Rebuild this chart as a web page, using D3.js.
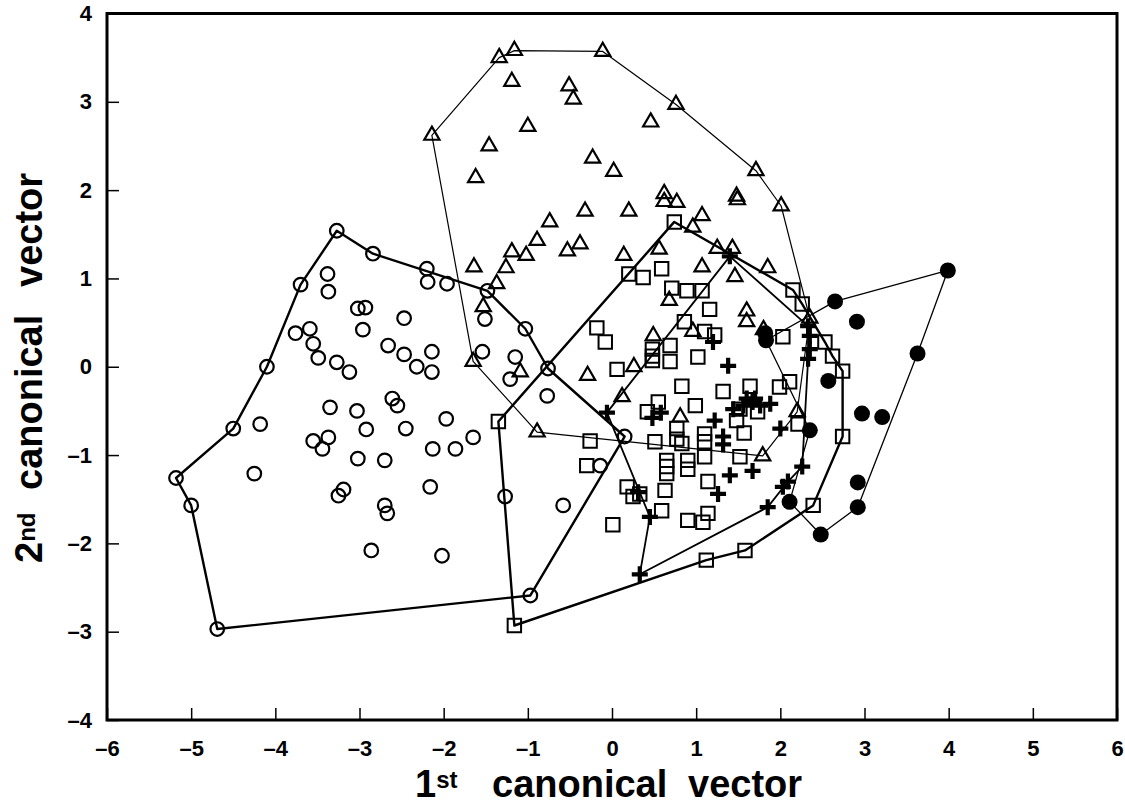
<!DOCTYPE html>
<html>
<head>
<meta charset="utf-8">
<script src="https://cdn.jsdelivr.net/npm/d3@7"></script>
<style>
  body { margin: 0; background: #fff; }
  svg { display: block; }
  text { font-family: "Liberation Sans", Arial, Helvetica, sans-serif; font-weight: bold; fill: #000; }
</style>
</head>
<body>
<div id="chart"></div>
<script>
// canonical discriminant scores
const xTicks = [-6, -5, -4, -3, -2, -1, 0, 1, 2, 3, 4, 5, 6];
const yTicks = [-4, -3, -2, -1, 0, 1, 2, 3, 4];

// open circles: outline (in drawing order), then the rest
const circleHull = [[-3.27,1.54],[-2.84,1.28],[-1.48,0.86],[-1.03,0.43],[-0.76,-0.02],[0.15,-0.79],
  [-0.97,-2.59],[-4.69,-2.97],[-5.0,-1.57],[-5.18,-1.26],[-4.5,-0.7],[-4.1,0.0],[-3.7,0.93]];
const circleInner = [[-3.38,1.05],[-3.37,0.85],[-3.02,0.66],[-2.93,0.67],[-2.96,0.42],[-3.76,0.38],
  [-3.59,0.43],[-3.55,0.26],[-3.49,0.10],[-3.27,0.05],[-3.12,-0.06],[-2.66,0.24],[-2.47,0.14],
  [-3.35,-0.46],[-3.03,-0.50],[-2.92,-0.71],[-2.61,-0.36],[-2.55,-0.44],[-4.18,-0.65],[-3.55,-0.84],
  [-3.37,-0.80],[-3.44,-0.93],[-3.02,-1.04],[-2.70,-1.06],[-4.25,-1.21],[-3.25,-1.46],[-3.19,-1.39],
  [-2.70,-1.57],[-2.67,-1.66],[-2.86,-2.08],[-2.47,0.55],[-2.20,1.11],[-2.19,0.96],[-1.96,0.94],
  [-2.14,0.17],[-2.14,-0.06],[-2.32,0.0],[-2.45,-0.70],[-1.97,-0.59],[-2.13,-0.93],[-1.86,-0.93],
  [-1.65,-0.80],[-2.16,-1.36],[-2.02,-2.14],[-1.54,0.17],[-1.51,0.54],[-1.15,0.11],[-1.21,-0.14],
  [-0.77,-0.33],[-0.14,-1.12],[-1.27,-1.47],[-0.58,-1.57]];

// open triangles
const triHull = [[-2.14,2.62],[-1.34,3.50],[-1.16,3.58],[-0.11,3.57],[0.76,2.97],[1.71,2.22],[2.01,1.82],
  [2.35,0.55],[2.20,-0.51],[1.79,-1.01],[-0.89,-0.74],[-1.65,0.06]];
const triInner = [[-1.19,3.23],[-0.51,3.18],[-0.46,3.03],[-1.0,2.72],[0.46,2.77],[-1.46,2.50],[-1.62,2.14],
  [-0.23,2.36],[0.02,2.21],[0.62,1.96],[0.62,1.87],[0.77,1.86],[1.48,1.93],[1.49,1.89],[-0.32,1.76],
  [0.20,1.76],[-0.74,1.64],[1.07,1.71],[-0.89,1.43],[-0.38,1.39],[-0.53,1.31],[-1.19,1.30],[-1.02,1.26],
  [-1.26,1.12],[-1.64,1.13],[0.14,1.26],[0.56,1.33],[0.96,1.58],[1.25,1.34],[1.43,1.34],[1.07,1.13],
  [1.46,1.02],[1.85,1.12],[-1.37,0.94],[-1.53,0.68],[-1.09,-0.06],[-0.29,-0.10],[0.26,0.0],[0.12,-0.34],
  [0.68,0.75],[0.49,0.35],[0.96,0.40],[0.81,-0.57],[1.60,0.63],[1.60,0.51],[1.80,0.42]];

// open squares
const squareHull = [[0.74,1.64],[2.15,0.87],[2.26,0.71],[2.53,0.28],[2.62,0.12],[2.74,-0.05],[2.74,-0.79],
  [2.39,-1.57],[1.58,-2.08],[1.12,-2.19],[-1.16,-2.93],[-1.35,-0.62]];
const squareInner = [[0.20,1.05],[0.37,1.01],[0.59,1.11],[0.71,0.89],[0.89,0.86],[1.07,0.86],[1.16,0.65],
  [0.86,0.51],[1.10,0.40],[1.22,0.36],[-0.18,0.44],[-0.08,0.28],[0.69,0.24],[0.48,0.20],[0.48,0.12],
  [0.48,0.07],[0.69,0.06],[1.02,0.11],[0.06,-0.03],[0.83,-0.22],[1.32,-0.28],[0.55,-0.40],[0.42,-0.51],
  [0.99,-0.44],[1.48,-0.61],[1.57,-0.75],[-0.26,-0.84],[0.51,-0.85],[0.77,-0.70],[0.77,-0.82],[0.83,-0.87],
  [1.10,-0.76],[1.10,-0.85],[1.10,-1.02],[0.65,-1.06],[0.65,-1.13],[0.65,-1.21],[0.90,-1.06],[0.90,-1.16],
  [1.52,-1.02],[0.18,-1.36],[0.25,-1.47],[0.33,-1.44],[0.63,-1.40],[0.59,-1.63],[1.14,-1.30],[0.90,-1.74],
  [1.08,-1.76],[1.14,-1.66],[0.01,-1.79],[2.03,0.34],[2.11,-0.17],[1.99,-0.23],[1.64,-0.22],[2.21,-0.65],
  [1.52,-0.48],[1.73,-0.51],[-0.30,-1.12]];

// crosses
const crossHull = [[-0.06,-0.52],[0.45,-1.70],[0.33,-2.35],[1.85,-1.59],[2.09,-1.30],[2.26,-1.13],
  [2.33,0.09],[2.33,0.46],[1.40,1.25]];
const crossInner = [[1.38,0.01],[0.48,-0.58],[0.58,-0.52],[1.22,-0.61],[1.32,-0.79],[1.44,-0.48],
  [1.56,-0.44],[1.67,-0.40],[1.40,-1.23],[1.26,-1.44],[1.67,-1.18],[0.31,-1.42],[1.20,0.28],[2.35,0.35],
  [2.35,0.20],[2.0,-0.70],[1.70,-0.36],[1.76,-0.44],[1.60,-0.36],[2.03,-1.36],[1.88,-0.42],[1.32,-0.88]];

// filled circles
const dotHull = [[1.83,0.30],[2.65,0.74],[3.99,1.09],[3.63,0.15],[2.92,-1.59],[2.48,-1.90],[2.11,-1.53],[2.35,-0.72]];
const dotInner = [[2.91,0.51],[2.97,-0.53],[3.21,-0.57],[2.92,-1.31],[2.57,-0.16],[1.82,0.38]];

const width = 1125, height = 806;

const x = d3.scaleLinear().domain([-6, 6]).range([107, 1117]);
const y = d3.scaleLinear().domain([-4, 4]).range([720, 13.5]);

const svg = d3.select("#chart")
  .append("svg")
  .attr("width", width)
  .attr("height", height);

svg.append("rect").attr("width", width).attr("height", height).attr("fill", "#fff");

const tickFmt = d => d < 0 ? "\u2013" + Math.abs(d) : String(d); // printed with a dash

// axes with inward ticks
const xAxis = svg.append("g")
  .attr("transform", `translate(0,${y(-4)})`)
  .call(d3.axisBottom(x).tickValues(xTicks).tickFormat(tickFmt).tickSize(-12).tickPadding(20));
const yAxis = svg.append("g")
  .attr("transform", `translate(${x(-6)},0)`)
  .call(d3.axisLeft(y).tickValues(yTicks).tickFormat(tickFmt).tickSize(-12).tickPadding(15));

[xAxis, yAxis].forEach(g => {
  g.attr("font-size", null).attr("font-family", null);
  g.select(".domain").remove();
  g.selectAll(".tick line").attr("stroke", "#000").attr("stroke-width", 1.5);
  g.selectAll(".tick text").style("font-size", "22px");
});

// frame
svg.append("rect")
  .attr("x", x(-6)).attr("y", y(4))
  .attr("width", x(6) - x(-6)).attr("height", y(-4) - y(4))
  .attr("fill", "none").attr("stroke", "#000").attr("stroke-width", 3);

const line = d3.line().x(d => x(d[0])).y(d => y(d[1])).curve(d3.curveLinearClosed);

// outlines of the five groups
const outlines = [
  { pts: circleHull, w: 2.4 },
  { pts: triHull, w: 1.2 },
  { pts: squareHull, w: 2.4 },
  { pts: crossHull, w: 1.8 },
  { pts: dotHull, w: 1.3 }
];
svg.append("g")
  .attr("fill", "none")
  .attr("stroke", "#000")
  .attr("stroke-linejoin", "round")
  .selectAll("path")
  .data(outlines)
  .join("path")
  .attr("stroke-width", d => d.w)
  .attr("d", d => line(d.pts));

// markers
const marks = svg.append("g").attr("stroke", "#000");

marks.append("g")
  .selectAll("circle")
  .data(circleHull.concat(circleInner))
  .join("circle")
  .attr("cx", d => x(d[0])).attr("cy", d => y(d[1]))
  .attr("r", 6.8)
  .attr("fill", "none")
  .attr("stroke-width", 2.2);

const tri = d3.symbol().type(d3.symbolTriangle).size(100)();
marks.append("g")
  .selectAll("path")
  .data(triHull.concat(triInner))
  .join("path")
  .attr("transform", d => `translate(${x(d[0])},${y(d[1])})`)
  .attr("d", tri)
  .attr("fill", "none")
  .attr("stroke-width", 2.2);

const sq = d3.symbol().type(d3.symbolSquare).size(180)();
marks.append("g")
  .selectAll("path")
  .data(squareHull.concat(squareInner))
  .join("path")
  .attr("transform", d => `translate(${x(d[0])},${y(d[1])})`)
  .attr("d", sq)
  .attr("fill", "none")
  .attr("stroke-width", 2);

marks.append("g")
  .selectAll("path")
  .data(crossHull.concat(crossInner))
  .join("path")
  .attr("transform", d => `translate(${x(d[0])},${y(d[1])})`)
  .attr("d", "M-8,0H8M0,-8V8")
  .attr("fill", "none")
  .attr("stroke-width", 4.2);

marks.append("g")
  .selectAll("circle")
  .data(dotHull.concat(dotInner))
  .join("circle")
  .attr("cx", d => x(d[0])).attr("cy", d => y(d[1]))
  .attr("r", 8)
  .attr("fill", "#000")
  .attr("stroke", "none");

// axis titles
const xt = svg.append("text").attr("y", 797).attr("font-size", 38);
xt.append("tspan").attr("x", 415).text("1");
xt.append("tspan").attr("font-size", 24).attr("dy", -9).text("st");
xt.append("tspan").attr("x", 492).attr("dy", 9).text("canonical");
xt.append("tspan").attr("x", 688).text("vector");

const yt = svg.append("text").attr("transform", "translate(42,0) rotate(-90)").attr("font-size", 38);
yt.append("tspan").attr("x", -563).text("2");
yt.append("tspan").attr("font-size", 24).attr("dy", -7).text("nd");
yt.append("tspan").attr("x", -490).attr("dy", 7).text("canonical");
yt.append("tspan").attr("x", -287).text("vector");
</script>
</body>
</html>
